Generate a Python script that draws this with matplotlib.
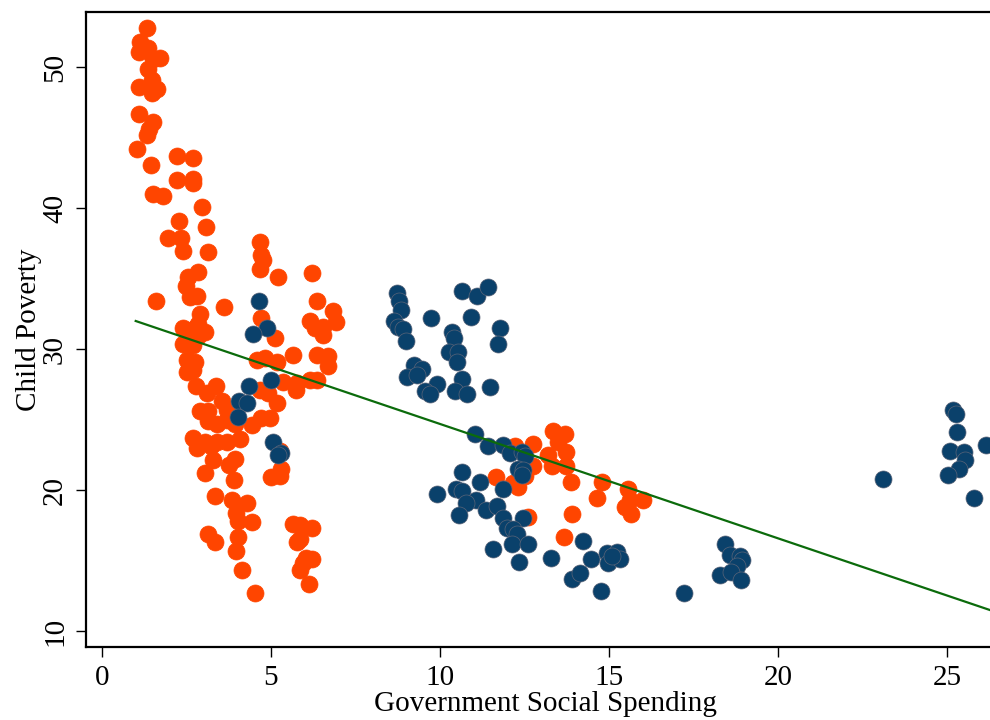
import matplotlib
matplotlib.use("Agg")
import matplotlib.pyplot as plt

# countries with low social spending (orange)
orange_x = [1.32, 1.12, 1.37, 1.09, 1.52, 1.72, 1.37, 1.09, 1.47, 1.62, 1.49, 1.10, 1.52, 1.40, 1.32,
            1.03, 1.44, 2.23, 2.70, 2.21, 2.70, 2.70, 1.52, 1.80, 2.97, 2.29, 3.08, 1.96, 2.34, 2.39,
            3.14, 2.85, 2.55, 2.48, 2.62, 2.82, 1.59, 3.62, 2.90, 2.40, 2.75, 3.05, 2.85, 2.40, 2.70,
            2.60, 2.85, 2.51, 2.75, 2.51, 2.70, 2.78, 3.37, 3.10, 3.54, 3.69, 2.90, 3.14, 3.14, 3.39,
            3.69, 3.93, 2.70, 3.05, 3.39, 3.69, 2.80, 3.24, 4.08, 4.43, 4.72, 4.97, 5.17, 4.67, 4.92,
            5.36, 5.76, 5.74, 6.15, 6.37, 4.58, 4.82, 5.18, 5.66, 6.35, 6.69, 6.69, 5.12, 4.70, 5.21,
            4.67, 4.72, 4.77, 4.67, 6.22, 6.37, 6.84, 6.92, 6.15, 6.30, 6.55, 6.55, 3.29, 3.05, 3.93,
            3.77, 3.90, 5.31, 5.26, 4.99, 3.34, 3.85, 4.28, 3.98, 4.03, 4.43, 3.14, 3.34, 4.03, 3.96,
            5.66, 5.86, 6.22, 5.76, 5.86, 6.05, 6.22, 5.95, 5.86, 4.13, 6.13, 4.53, 5.26,
            11.67, 12.22, 12.76, 13.35, 13.69, 13.50, 13.74, 13.20, 13.30, 13.74, 12.76, 12.51, 12.31,
            12.17, 12.61, 13.86, 14.78, 14.65, 15.55, 16.01, 15.62, 15.47, 15.64, 13.89, 13.66]
orange_y = [52.8, 51.8, 51.4, 51.1, 50.6, 50.7, 49.9, 48.6, 49.1, 48.5, 48.2, 46.7, 46.1, 45.6, 45.2,
            44.2, 43.1, 43.7, 43.6, 42.0, 42.1, 41.8, 41.0, 40.9, 40.1, 39.1, 38.7, 37.9, 37.9, 37.0,
            36.9, 35.5, 35.1, 34.5, 33.7, 33.8, 33.4, 33.0, 32.5, 31.5, 31.5, 31.2, 31.8, 30.4, 30.3,
            30.9, 30.9, 29.2, 29.1, 28.4, 28.5, 27.4, 27.4, 26.9, 26.3, 25.7, 25.6, 25.6, 24.9, 24.7,
            25.0, 24.7, 23.7, 23.4, 23.4, 23.4, 23.0, 23.1, 23.6, 24.6, 25.1, 25.1, 26.2, 27.1, 26.9,
            27.7, 27.6, 27.1, 27.8, 27.8, 29.2, 29.4, 29.1, 29.6, 29.6, 29.5, 28.8, 30.8, 32.2, 35.1,
            37.6, 36.7, 36.3, 35.7, 35.4, 33.4, 32.7, 31.9, 32.0, 31.5, 31.6, 31.0, 22.1, 21.2, 22.2,
            21.8, 20.7, 21.5, 21.0, 20.9, 19.6, 19.3, 19.1, 18.4, 17.8, 17.7, 16.9, 16.3, 16.7, 15.7,
            17.6, 17.5, 17.3, 16.3, 16.5, 15.2, 15.1, 14.8, 14.3, 14.3, 13.3, 12.7, 22.8,
            20.9, 23.1, 23.3, 24.2, 24.0, 23.4, 22.7, 22.5, 21.7, 21.7, 21.7, 21.0, 20.2,
            20.5, 18.1, 20.6, 20.6, 19.4, 20.1, 19.3, 19.3, 18.8, 18.3, 18.3, 16.7]

# countries with high social spending (blue)
blue_x = [4.65, 4.87, 4.47, 5.00, 4.36, 4.06, 4.28, 4.03, 5.05, 5.29, 5.21,
          8.73, 8.79, 8.86, 8.64, 8.76, 8.91, 8.99, 9.73, 10.64, 11.10, 11.43, 10.93, 10.34, 10.41,
          11.77, 11.72, 10.26, 10.54, 10.49, 9.24, 9.46, 9.03, 9.31, 9.90, 9.55, 9.70, 10.64, 10.44,
          10.79, 11.48, 11.03, 11.43, 11.87, 12.07, 12.41, 12.51, 12.31, 12.46, 12.41, 10.64, 11.18,
          9.90, 10.47, 10.64, 11.06, 10.77, 10.57, 11.36, 11.70, 11.87, 12.46, 11.97, 12.17, 12.27,
          12.12, 12.61, 11.56, 12.33, 13.27, 11.87,
          14.24, 14.48, 14.93, 15.22, 14.98, 15.32, 15.08, 13.89, 14.14, 14.76, 17.21,
          18.43, 18.57, 18.87, 18.92, 18.77, 18.28, 18.62, 18.90, 23.11,
          25.18, 25.25, 25.28, 25.08, 25.50, 25.52, 25.36, 25.03, 26.15, 25.79]
blue_y = [33.4, 31.5, 31.1, 27.8, 27.4, 26.3, 26.2, 25.2, 23.4, 22.6, 22.5,
          34.0, 33.4, 32.8, 32.0, 31.6, 31.4, 30.6, 32.2, 34.1, 33.8, 34.4, 32.3, 31.2, 30.8,
          31.5, 30.4, 29.8, 29.8, 29.1, 28.9, 28.6, 28.0, 28.2, 27.5, 27.0, 26.8, 27.9, 27.0,
          26.8, 27.3, 24.0, 23.1, 23.2, 22.6, 22.7, 22.4, 21.5, 21.4, 21.1, 21.3, 20.6,
          19.7, 20.1, 19.9, 19.3, 19.1, 18.2, 18.6, 18.9, 18.0, 18.0, 17.3, 17.2, 16.9,
          16.2, 16.2, 15.8, 14.9, 15.2, 20.1,
          16.4, 15.1, 15.5, 15.6, 14.8, 15.1, 15.3, 13.7, 14.1, 12.8, 12.7,
          16.2, 15.4, 15.3, 15.0, 14.6, 14.0, 14.2, 13.6, 20.8,
          25.7, 25.4, 24.1, 22.8, 22.7, 22.1, 21.5, 21.1, 23.2, 19.4]

# linear fit
fit_intercept = 32.81
fit_slope = -0.812
fit_x = [1.0, 26.6]
fit_y = [fit_intercept + fit_slope * v for v in fit_x]

plt.rcParams['font.family'] = ['Liberation Serif', 'DejaVu Serif']

fig = plt.figure(figsize=(9.9, 7.2), dpi=100)
ax = fig.add_axes([86 / 990, 1 - 647 / 720, 918 / 990, 635 / 720])

ax.scatter(orange_x, orange_y, s=150, color='#FF4500', edgecolors='#FF4500', linewidths=0.5, zorder=2)
ax.scatter(blue_x, blue_y, s=150, color='#0A416B', edgecolors='#5a6478', linewidths=0.5, zorder=3)
ax.plot(fit_x, fit_y, color='#0B6B0B', linewidth=1.6, zorder=4)

ax.set_xlim(-0.47, 26.68)
ax.set_ylim(8.86, 53.93)
ax.set_xticks([0, 5, 10, 15, 20, 25])
ax.set_yticks([10, 20, 30, 40, 50])

for side in ['left', 'bottom', 'top']:
    ax.spines[side].set_linewidth(1.6)
ax.spines['right'].set_visible(False)

ax.tick_params(axis='both', direction='out', length=7, width=1, labelsize=21, pad=6)
for lab in ax.get_yticklabels():
    lab.set_rotation(90)
    lab.set_va('center')

ax.set_xlabel('Government Social Spending', fontsize=21, labelpad=0)
ax.set_ylabel('Child Poverty', fontsize=21, labelpad=0)

fig.savefig('out.png', dpi=100)
